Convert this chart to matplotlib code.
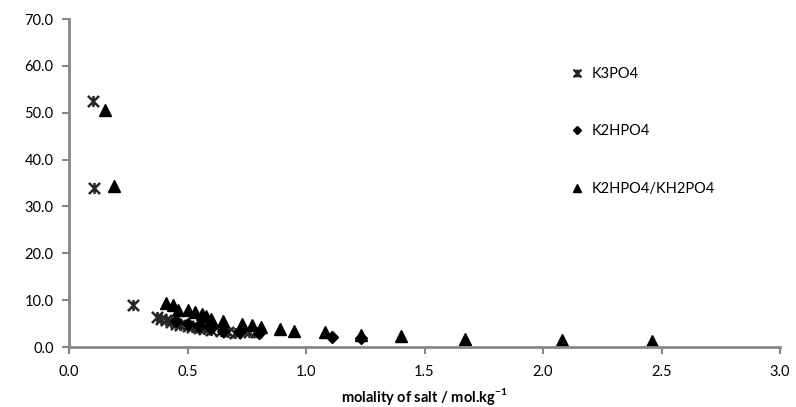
import matplotlib.pyplot as plt
from matplotlib.path import Path
from matplotlib.ticker import FormatStrFormatter

plt.rcParams['font.family'] = ['Lato', 'DejaVu Sans']

# K3PO4
k3_x = [0.10, 0.105, 0.27, 0.37, 0.39, 0.41, 0.43, 0.45, 0.47, 0.50, 0.52, 0.55,
        0.57, 0.60, 0.64, 0.67, 0.70, 0.76, 0.79]
k3_y = [52.5, 34.0, 9.0, 6.5, 6.0, 5.7, 5.3, 5.0, 4.8, 4.5, 4.3, 4.0,
        3.8, 3.6, 3.4, 3.2, 3.0, 3.3, 3.1]

# K2HPO4
k2_x = [0.45, 0.50, 0.55, 0.60, 0.65, 0.72, 0.80, 1.11, 1.23]
k2_y = [5.5, 5.0, 4.5, 4.0, 3.5, 3.2, 3.0, 2.2, 2.0]

# K2HPO4/KH2PO4
mix_x = [0.15, 0.19, 0.41, 0.44, 0.46, 0.50, 0.53, 0.56, 0.58, 0.60, 0.65, 0.73,
         0.77, 0.81, 0.89, 0.95, 1.08, 1.23, 1.40, 1.67, 2.08, 2.46]
mix_y = [50.7, 34.3, 9.4, 9.0, 8.0, 8.0, 7.4, 7.0, 6.6, 6.0, 5.6, 5.0,
         4.6, 4.3, 3.9, 3.5, 3.1, 2.6, 2.3, 1.8, 1.5, 1.3]

# x-cross with a vertical bar through it
star = Path([(-1, -1), (1, 1), (-1, 1), (1, -1), (0, -1), (0, 1)],
            [Path.MOVETO, Path.LINETO, Path.MOVETO, Path.LINETO,
             Path.MOVETO, Path.LINETO])

fig = plt.figure(figsize=(7.96, 4.07), dpi=100)
ax = fig.add_axes([0.0867, 0.1474, 0.8933, 0.8056])

ax.plot(k3_x, k3_y, linestyle='none', marker=star, markersize=8,
        markeredgewidth=1.8, color='#262626', label='K3PO4')
ax.plot(k2_x, k2_y, linestyle='none', marker='D', markersize=6,
        color='black', label='K2HPO4')
ax.plot(mix_x, mix_y, linestyle='none', marker='^', markersize=8,
        color='black', label='K2HPO4/KH2PO4')

ax.set_xlim(0, 3.0)
ax.set_ylim(0, 70)
ax.set_xticks([0, 0.5, 1.0, 1.5, 2.0, 2.5, 3.0])
ax.set_yticks(range(0, 71, 10))
ax.xaxis.set_major_formatter(FormatStrFormatter('%.1f'))
ax.yaxis.set_major_formatter(FormatStrFormatter('%.1f'))

for side in ['top', 'right']:
    ax.spines[side].set_visible(False)
for side in ['left', 'bottom']:
    ax.spines[side].set_color('#878787')
    ax.spines[side].set_linewidth(2)
ax.tick_params(colors='#878787', width=1.5, length=5, labelcolor='black',
               labelsize=10.5, pad=6)
ax.tick_params(axis='x', pad=8)

ax.set_xlabel('molality of salt / mol.kg$^{\\mathregular{-1}}$',
              fontsize=10.5, fontweight='bold', labelpad=5)

ax.legend(loc='upper left', bbox_to_anchor=(0.686, 0.895), frameon=False,
          fontsize=10.5, labelspacing=3.0, handletextpad=0.5,
          handlelength=1.0, markerscale=0.7)

fig.savefig('out.png', dpi=100)
